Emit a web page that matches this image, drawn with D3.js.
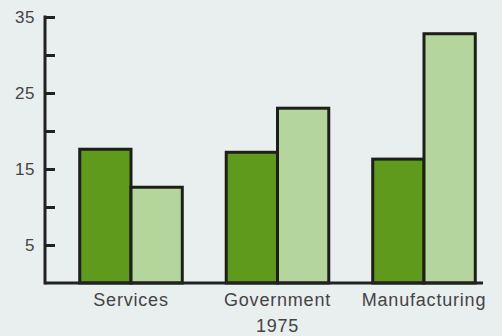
<!DOCTYPE html>
<html>
<head>
<meta charset="utf-8">
<script src="https://cdn.jsdelivr.net/npm/d3@7"></script>
<style>
  body { margin: 0; background: #e9eeee; }
  svg { display: block; }
  text { font-family: "Liberation Sans", Arial, sans-serif; fill: #444; }
</style>
</head>
<body>
<div id="chart"></div>
<script>
// chart values
const categories = ["Services", "Government", "Manufacturing"];
const series = ["a", "b"];
const darkValues = [17.6, 17.2, 16.3];
const lightValues = [12.6, 23.0, 32.8];
const tickValues = [5, 10, 15, 20, 25, 30, 35];
const labeledTicks = [5, 15, 25, 35];
const yearLabel = "1975";

const W = 502, H = 336;
const axisX = 45, baseY = 283;

const svg = d3.select("#chart").append("svg")
  .attr("width", W).attr("height", H);

svg.append("rect").attr("width", W).attr("height", H).attr("fill", "#e9eeee");

// scales
const x = d3.scaleBand()
  .domain(categories)
  .range([57.75, 497.25])
  .paddingInner(0.3)
  .paddingOuter(0.15);

const xSub = d3.scaleBand()
  .domain(series)
  .range([0, x.bandwidth()]);

const y = d3.scaleLinear().domain([0, 35]).range([baseY, 17]);

const colors = { a: "#5f9a1c", b: "#b4d69c" };

const rows = categories.map((c, i) => ({ cat: c, a: darkValues[i], b: lightValues[i] }));

// bars
const groups = svg.selectAll(".grp").data(rows).enter().append("g")
  .attr("class", "grp")
  .attr("transform", (d) => `translate(${x(d.cat)},0)`);

groups.selectAll("rect")
  .data((d) => series.map((s) => ({ key: s, value: d[s] })))
  .enter().append("rect")
  .attr("x", (d) => xSub(d.key))
  .attr("width", xSub.bandwidth())
  .attr("y", (d) => y(d.value))
  .attr("height", (d) => y(0) - y(d.value))
  .attr("fill", (d) => colors[d.key])
  .attr("stroke", "#1e1e1a")
  .attr("stroke-width", 3);

// y axis, ticks pointing inward
const yAxis = svg.append("g")
  .attr("transform", `translate(${axisX},0)`)
  .call(d3.axisLeft(y)
    .tickValues(tickValues)
    .tickSize(-10)
    .tickPadding(10)
    .tickFormat((d) => (labeledTicks.includes(d) ? d : "")));
yAxis.select(".domain").remove();
yAxis.selectAll(".tick line").attr("stroke", "#222").attr("stroke-width", 3);
yAxis.selectAll(".tick text")
  .style("font-size", "17px")
  .style("letter-spacing", "0.5px")
  .attr("fill", "#5a5a5a");

svg.append("line")
  .attr("x1", axisX).attr("x2", axisX)
  .attr("y1", y(35) - 1.5).attr("y2", baseY + 1.5)
  .attr("stroke", "#222").attr("stroke-width", 3);

// baseline
svg.append("line")
  .attr("x1", axisX).attr("x2", 483)
  .attr("y1", baseY).attr("y2", baseY)
  .attr("stroke", "#222").attr("stroke-width", 3);

// category labels
svg.selectAll(".cat").data(categories).enter().append("text")
  .attr("class", "cat")
  .attr("x", (d) => x(d) + x.bandwidth() / 2)
  .attr("y", 306)
  .attr("text-anchor", "middle")
  .style("font-size", "18px")
  .style("letter-spacing", "0.8px")
  .text((d) => d);

svg.append("text")
  .attr("x", x("Government") + x.bandwidth() / 2)
  .attr("y", 332)
  .attr("text-anchor", "middle")
  .style("font-size", "18px")
  .style("letter-spacing", "0.8px")
  .text(yearLabel);
</script>
</body>
</html>
